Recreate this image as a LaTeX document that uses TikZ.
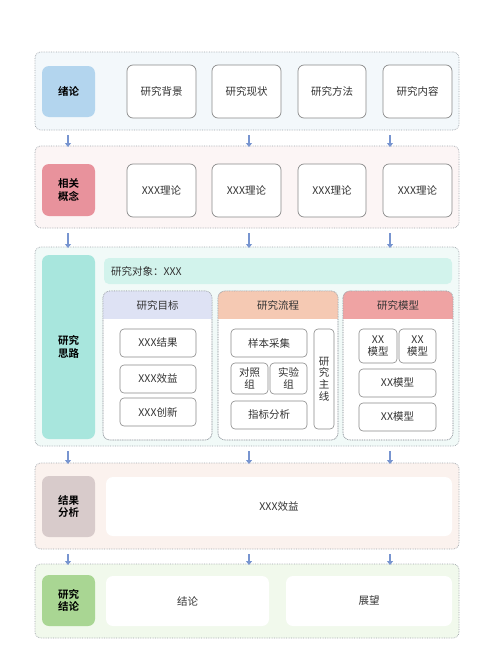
\documentclass[tikz,border=0pt]{standalone}
\usepackage{fontspec}
\setmainfont{Noto Sans CJK SC}[BoldFont={Noto Sans CJK SC Bold}]
\usetikzlibrary{arrows.meta}
\definecolor{bordc}{HTML}{A0A6AC}
\definecolor{boxc}{HTML}{8A8A8A}
\definecolor{txtc}{HTML}{333333}
\definecolor{arrc}{HTML}{7895D0}
\definecolor{o1}{HTML}{F3F8FB}
\definecolor{c1}{HTML}{B3D5EE}
\definecolor{o2}{HTML}{FCF5F5}
\definecolor{c2}{HTML}{E8929C}
\definecolor{o3}{HTML}{F1FAF8}
\definecolor{c3}{HTML}{A8E6DD}
\definecolor{bar3}{HTML}{D2F3EC}
\definecolor{ha}{HTML}{DEE2F4}
\definecolor{hb}{HTML}{F5C9B3}
\definecolor{hc}{HTML}{EFA3A3}
\definecolor{o4}{HTML}{FBF2EE}
\definecolor{c4}{HTML}{D8CBCB}
\definecolor{o5}{HTML}{F1F9EC}
\definecolor{c5}{HTML}{A9D693}
\newcommand{\mybox}[7]{\node[#1, minimum width={(#5)-(#3)}, minimum height={(#6)-(#4)}] (#2) at ({((#3)+(#5))/2},{((#4)+(#6))/2}) {#7};}
\tikzset{
  base/.style={inner sep=1pt, outer sep=0pt, font=\fontsize{10.5}{12.5}\selectfont, text=txtc, align=center},
  section/.style={base, draw=bordc, densely dotted, line width=0.7pt, rounded corners=6pt},
  label/.style={base, rounded corners=7pt, font=\fontsize{10.5}{12.5}\selectfont\bfseries, text=black},
  item/.style={base, draw=boxc, line width=0.7pt, fill=white, rounded corners=6pt},
  small/.style={base, draw=boxc, line width=0.6pt, fill=white, rounded corners=4pt, font=\fontsize{10.5}{11.8}\selectfont},
  plain/.style={base, fill=white, rounded corners=7pt},
  panel/.style={base, draw=bordc, densely dotted, line width=0.7pt, fill=white, rounded corners=7pt},
  arr/.style={draw=arrc, line width=1.4pt, -{Triangle[length=4pt,width=6pt]}, shorten <=5pt, shorten >=-1pt},
}
\begin{document}
\begin{tikzpicture}[x=1pt,y=-1pt]
\useasboundingbox (0,0) rectangle (500,653);
\fill[white] (0,0) rectangle (500,653);
% sections
\mybox{section, fill=o1}{s1}{35}{52}{459}{130}{}
\mybox{section, fill=o2}{s2}{35}{146}{459}{228}{}
\mybox{section, fill=o3}{s3}{35}{247}{459}{446}{}
\mybox{section, fill=o4}{s4}{35}{463}{459}{549}{}
\mybox{section, fill=o5}{s5}{35}{564}{459}{638}{}
% labels
\mybox{label, fill=c1}{l1}{42}{66}{95}{117}{绪论}
\mybox{label, fill=c2}{l2}{42}{164}{95}{216}{相关\\概念}
\mybox{label, fill=c3}{l3}{42}{255}{95}{439}{研究\\思路}
\mybox{label, fill=c4}{l4}{42}{476}{95}{537}{结果\\分析}
\mybox{label, fill=c5}{l5}{42}{575}{95}{626}{研究\\结论}
% section 1
\mybox{item}{a1}{127}{65}{196}{118}{研究背景}
\mybox{item}{a2}{212}{65}{281}{118}{研究现状}
\mybox{item}{a3}{298}{65}{366}{118}{研究方法}
\mybox{item}{a4}{383}{65}{452}{118}{研究内容}
% section 2
\mybox{item}{b1}{127}{164}{196}{217}{XXX理论}
\mybox{item}{b2}{212}{164}{281}{217}{XXX理论}
\mybox{item}{b3}{298}{164}{366}{217}{XXX理论}
\mybox{item}{b4}{383}{164}{452}{217}{XXX理论}
% section 3
\node[base, fill=bar3, rounded corners=5pt, minimum height=26, text width=334, inner xsep=7pt, align=left] (bar) at (278,271) {研究对象：XXX};
\mybox{panel}{p1}{103}{291}{212}{440}{}
\mybox{panel}{p2}{218}{291}{338}{440}{}
\mybox{panel}{p3}{343}{291}{453}{440}{}
\begin{scope}
\clip[rounded corners=7pt] (103,291) rectangle (212,440);
\fill[ha] (103,291) rectangle (212,319);
\end{scope}
\begin{scope}
\clip[rounded corners=7pt] (218,291) rectangle (338,440);
\fill[hb] (218,291) rectangle (338,319);
\end{scope}
\begin{scope}
\clip[rounded corners=7pt] (343,291) rectangle (453,440);
\fill[hc] (343,291) rectangle (453,319);
\end{scope}
\draw[bordc, densely dotted, line width=0.7pt, rounded corners=7pt] (103,291) rectangle (212,440);
\draw[bordc, densely dotted, line width=0.7pt, rounded corners=7pt] (218,291) rectangle (338,440);
\draw[bordc, densely dotted, line width=0.7pt, rounded corners=7pt] (343,291) rectangle (453,440);
\node[base] (h1) at (157.5,305) {研究目标};
\node[base] (h2) at (278,305) {研究流程};
\node[base] (h3) at (398,305) {研究模型};
\mybox{small}{g1}{120}{329}{196}{357}{XXX结果}
\mybox{small}{g2}{120}{365}{196}{393}{XXX效益}
\mybox{small}{g3}{120}{398}{196}{426}{XXX创新}
\mybox{small}{f1}{231}{329}{307}{357}{样本采集}
\mybox{small}{f2}{231}{363}{268}{394}{对照\\组}
\mybox{small}{f3}{270}{363}{307}{394}{实验\\组}
\mybox{small}{f4}{231}{401}{307}{429}{指标分析}
\mybox{small}{f5}{314}{329}{334}{429}{研\\究\\主\\线}
\mybox{small}{m1}{359}{329}{397}{363}{XX\\模型}
\mybox{small}{m2}{399}{329}{436}{363}{XX\\模型}
\mybox{small}{m3}{359}{369}{436}{397}{XX模型}
\mybox{small}{m4}{359}{403}{436}{431}{XX模型}
% section 4 and 5
\mybox{plain}{d1}{106}{477}{452}{536}{XXX效益}
\mybox{plain}{e1}{106}{576}{269}{626}{结论}
\mybox{plain}{e2}{286}{576}{452}{626}{展望}
% arrows
\coordinate (xa) at (68,0);
\coordinate (xb) at (249,0);
\coordinate (xc) at (390,0);
\foreach \u/\v in {s1/s2,s2/s3,s3/s4,s4/s5}{
  \foreach \x in {xa,xb,xc}{
    \draw[arr] (\u.south -| \x) -- (\v.north -| \x);
  }
}
\end{tikzpicture}
\end{document}
